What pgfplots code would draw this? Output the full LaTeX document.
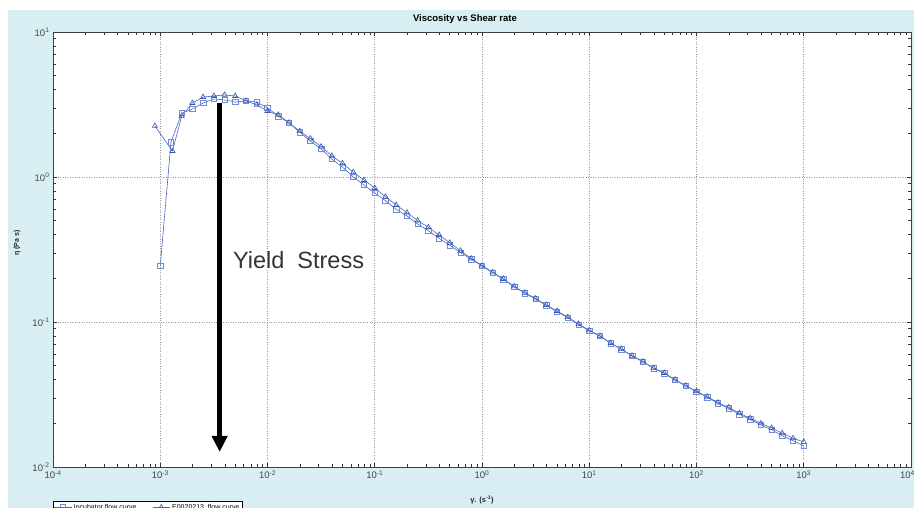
\documentclass[border=0pt]{standalone}
\usepackage{fontspec}
\setmainfont{Liberation Sans}
\usepackage{pgfplots}
\pgfplotsset{compat=1.18}
\usetikzlibrary{arrows.meta}
\definecolor{bgblue}{RGB}{216,238,243}
\definecolor{lineblue}{RGB}{72,102,192}
\definecolor{sqblue}{RGB}{110,140,215}
\definecolor{triblue}{RGB}{55,85,175}
\definecolor{ticktext}{RGB}{70,70,70}
\begin{document}
\begin{tikzpicture}[x=1pt,y=1pt]
\fill[bgblue] (8,0) rectangle (914,498);
\begin{axis}[
  at={(53pt,41pt)}, anchor=south west,
  scale only axis, width=858pt, height=435pt,
  xmode=log, ymode=log,
  xmin=1e-4, xmax=1e4, ymin=1e-2, ymax=1e1,
  axis background/.style={fill=white},
  axis line style={black!75, line width=0.8pt},
  xtick={1e-4,1e-3,1e-2,1e-1,1e0,1e1,1e2,1e3,1e4},
  ytick={1e-2,1e-1,1e0,1e1},
  xticklabels={10\textsuperscript{-4},10\textsuperscript{-3},10\textsuperscript{-2},10\textsuperscript{-1},10\textsuperscript{0},10\textsuperscript{1},10\textsuperscript{2},10\textsuperscript{3},10\textsuperscript{4}\hspace*{7pt}},
  yticklabels={10\textsuperscript{-2},10\textsuperscript{-1},10\textsuperscript{0},10\textsuperscript{1}},
  minor xtick={2e-4,3e-4,4e-4,5e-4,6e-4,7e-4,8e-4,9e-4,
    2e-3,3e-3,4e-3,5e-3,6e-3,7e-3,8e-3,9e-3,
    2e-2,3e-2,4e-2,5e-2,6e-2,7e-2,8e-2,9e-2,
    2e-1,3e-1,4e-1,5e-1,6e-1,7e-1,8e-1,9e-1,
    2,3,4,5,6,7,8,9,20,30,40,50,60,70,80,90,
    200,300,400,500,600,700,800,900,2000,3000,4000,5000,6000,7000,8000,9000},
  minor ytick={2e-2,3e-2,4e-2,5e-2,6e-2,7e-2,8e-2,9e-2,
    2e-1,3e-1,4e-1,5e-1,6e-1,7e-1,8e-1,9e-1,2,3,4,5,6,7,8,9},
  ticklabel style={font=\fontsize{9.5}{10}\selectfont, text=ticktext},
  major tick length=4pt, minor tick length=3pt,
  tick style={black!80, line width=0.5pt},
  xmajorgrids, ymajorgrids,
  major grid style={dotted, black!40, line width=0.6pt},
  xlabel={\textbf{γ. (s\textsuperscript{-1})}},
  ylabel={\textbf{η (Pa s)}},
  xlabel style={font=\fontsize{7.5}{8}\selectfont, text=black!85, at={(axis description cs:0.5,-0.076)}, anchor=center},
  ylabel style={font=\fontsize{7}{8}\selectfont, text=black!85, at={(axis description cs:-0.042,0.515)}, anchor=center},
  legend columns=2,
  legend style={at={(0,-0.078)}, anchor=north west, font=\fontsize{7}{8}\selectfont,
    draw=black, fill=white, inner sep=1pt, /tikz/every even column/.append style={column sep=14pt}},
  clip=false,
]
\addplot[color=lineblue, line width=0.6pt, mark=square, mark size=2.7pt,
  mark options={draw=sqblue, line width=0.6pt}] coordinates {
(1e-3,0.243) (1.259e-3,1.74) (1.585e-3,2.76) (1.995e-3,2.94) (2.512e-3,3.24)
(3.162e-3,3.45) (3.981e-3,3.40) (5.012e-3,3.29) (6.310e-3,3.35) (7.943e-3,3.29)
(1e-2,2.99) (1.259e-2,2.63) (1.585e-2,2.36) (1.995e-2,2.04) (2.512e-2,1.77)
(3.162e-2,1.56) (3.981e-2,1.33) (5.012e-2,1.17) (6.310e-2,1.00) (7.943e-2,0.88)
(1e-1,0.776) (1.259e-1,0.687) (1.585e-1,0.598) (1.995e-1,0.539) (2.512e-1,0.474)
(3.162e-1,0.426) (3.981e-1,0.378) (5.012e-1,0.338) (6.310e-1,0.301) (7.943e-1,0.271)
(1,0.243) (1.259,0.219) (1.585,0.197) (1.995,0.175) (2.512,0.158)
(3.162,0.144) (3.981,0.130) (5.012,0.118) (6.310,0.107) (7.943,0.096)
(10,0.0871) (12.59,0.0800) (15.85,0.0713) (19.95,0.0648) (25.12,0.0583)
(31.62,0.0532) (39.81,0.0479) (50.12,0.0443) (63.10,0.0398) (79.43,0.0362)
(100,0.0331) (125.9,0.0303) (158.5,0.0275) (199.5,0.0254) (251.2,0.0231)
(316.2,0.0213) (398.1,0.0195) (501.2,0.0181) (631.0,0.0164) (794.3,0.0152)
(1000,0.0140)
};
\addlegendentry{Incubator flow curve}
\addplot[color=lineblue, line width=0.6pt, mark=triangle, mark size=3pt,
  mark options={draw=triblue, line width=0.6pt}] coordinates {
(8.9e-4,2.25) (1.30e-3,1.51) (1.585e-3,2.63) (1.995e-3,3.24) (2.512e-3,3.56)
(3.162e-3,3.62) (3.981e-3,3.68) (5.012e-3,3.62) (6.310e-3,3.35) (7.943e-3,3.14)
(1e-2,2.85) (1.259e-2,2.68) (1.585e-2,2.37) (1.995e-2,2.07) (2.512e-2,1.84)
(3.162e-2,1.62) (3.981e-2,1.40) (5.012e-2,1.24) (6.310e-2,1.08) (7.943e-2,0.953)
(1e-1,0.840) (1.259e-1,0.731) (1.585e-1,0.641) (1.995e-1,0.568) (2.512e-1,0.500)
(3.162e-1,0.450) (3.981e-1,0.398) (5.012e-1,0.352) (6.310e-1,0.310) (7.943e-1,0.274)
(1,0.245) (1.259,0.220) (1.585,0.198) (1.995,0.176) (2.512,0.159)
(3.162,0.145) (3.981,0.131) (5.012,0.119) (6.310,0.108) (7.943,0.097)
(10,0.0875) (12.59,0.0800) (15.85,0.0716) (19.95,0.0650) (25.12,0.0585)
(31.62,0.0534) (39.81,0.0481) (50.12,0.0445) (63.10,0.0400) (79.43,0.0364)
(100,0.0333) (125.9,0.0305) (158.5,0.0278) (199.5,0.0257) (251.2,0.0235)
(316.2,0.0217) (398.1,0.0200) (501.2,0.0186) (631.0,0.0171) (794.3,0.0158)
(1000,0.0149)
};
\addlegendentry{E0020213\_flow curve}
\draw[black, line width=4.8pt, -{Triangle[width=15pt,length=16pt]}]
  (axis cs:3.58e-3,3.24) -- (axis cs:3.58e-3,0.0127);
\node[anchor=west, font=\fontsize{23.5}{26}\selectfont, text=black!80, inner sep=0pt]
  at (axis cs:4.75e-3,0.268) {Yield\ \ Stress};
\end{axis}
\node[font=\bfseries\fontsize{9.5}{11}\selectfont] at (465,489) {Viscosity vs Shear rate};
\pgfresetboundingbox
\useasboundingbox (0,0) rectangle (914,508);
\end{tikzpicture}
\end{document}
